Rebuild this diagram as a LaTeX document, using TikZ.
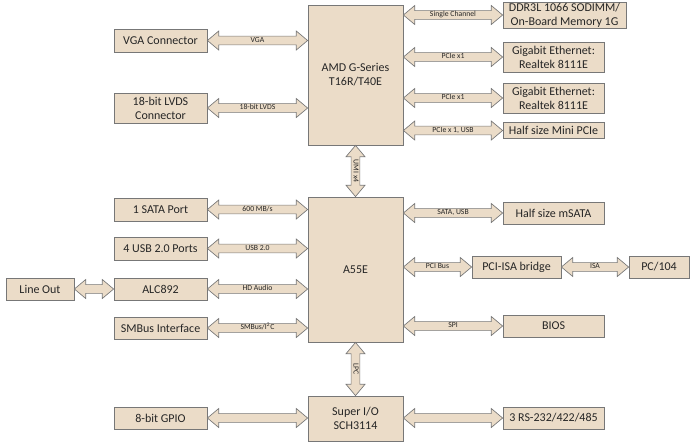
\documentclass[tikz,border=0pt]{standalone}
\usepackage{fontspec}
\setmainfont{Carlito}
\usetikzlibrary{shapes.arrows,calc}
\definecolor{boxfill}{HTML}{EBDCC8}
\definecolor{boxline}{HTML}{777777}
\definecolor{txt}{HTML}{262626}

% fat two-headed bus arrow between two points
\newcommand{\busarrow}[3][]{%
  \path let \p1=(#2), \p2=(#3), \n1={veclen(\x2-\x1,\y2-\y1)}, \n2={atan2(\y2-\y1,\x2-\x1)} in
    node[bus, minimum height=\n1, rotate=\n2] at ($(\p1)!0.5!(\p2)$) {#1};}

\begin{document}
\begin{tikzpicture}[x=0.75pt, y=-0.75pt, text=txt,
  box/.style 2 args={draw=boxline, fill=boxfill, line width=0.6pt, inner sep=0pt, align=center,
    minimum width=#1*0.75pt, minimum height=#2*0.75pt, font=\fontsize{9}{10.5}\selectfont},
  bus/.style={double arrow, draw=boxline, fill=boxfill, line width=0.5pt, inner xsep=0pt, inner ysep=0.6pt,
    text height=3.9pt, text depth=1pt, double arrow head extend=3.8pt, double arrow tip angle=80,
    font=\fontsize{5.8}{6}\selectfont}]
\useasboundingbox (0,0) rectangle (698,444);

\node[box={95}{140}] (cpu) at (355.5,75) {AMD G-Series\\T16R/T40E};
\node[box={95}{145}] (fch) at (355.5,269.5) {A55E};
\node[box={95}{45}] (sio) at (355.5,418.5) {Super I/O\\SCH3114};

\node[box={93}{23}] (vga) at (160.5,40.5) {VGA Connector};
\node[box={93}{30}] (lvds) at (160.5,108) {18-bit LVDS\\Connector};
\node[box={93}{23}] (sata) at (160.5,209.5) {1 SATA Port};
\node[box={93}{23}] (usb) at (160.5,248.5) {4 USB 2.0 Ports};
\node[box={93}{22}] (alc) at (160.5,289) {ALC892};
\node[box={68}{22}] (lineout) at (40,289) {Line Out};
\node[box={93}{22}] (smbus) at (160.5,328) {SMBus Interface};
\node[box={93}{22}] (gpio) at (160.5,418) {8-bit GPIO};

\node[box={123}{26}] (ddr) at (564.5,15) {DDR3L 1066 SODIMM/\\On-Board Memory 1G};
\node[box={101}{30}] (lan1) at (553.5,57) {Gigabit Ethernet:\\Realtek 8111E};
\node[box={101}{30}] (lan2) at (553.5,98) {Gigabit Ethernet:\\Realtek 8111E};
\node[box={101}{16}] (minipcie) at (553.5,130.5) {Half size Mini PCIe};
\node[box={101}{22}] (msata) at (553.5,213) {Half size mSATA};
\node[box={89}{22}] (pcisa) at (516.5,267) {PCI-ISA bridge};
\node[box={60}{22}] (pc104) at (659,267) {PC/104};
\node[box={101}{22}] (bios) at (553.5,326) {BIOS};
\node[box={101}{22}] (serial) at (553.5,418) {3 RS-232/422/485};

\busarrow[VGA]{vga.east}{vga.east -| cpu.west}
\busarrow[18-bit LVDS]{lvds.east}{lvds.east -| cpu.west}
\busarrow[Single Channel]{cpu.east |- ddr.west}{ddr.west}
\busarrow[PCIe x1]{cpu.east |- lan1.west}{lan1.west}
\busarrow[PCIe x1]{cpu.east |- lan2.west}{lan2.west}
\busarrow[PCIe x 1, USB]{cpu.east |- minipcie.west}{minipcie.west}
\busarrow[UMI x4]{cpu.south}{fch.north}

\busarrow[600 MB/s]{sata.east}{sata.east -| fch.west}
\busarrow[USB 2.0]{usb.east}{usb.east -| fch.west}
\busarrow[HD Audio]{alc.east}{alc.east -| fch.west}
\busarrow{lineout.east}{alc.west}
\busarrow[SMBus/I\textsuperscript{2}C]{smbus.east}{smbus.east -| fch.west}
\busarrow[SATA, USB]{fch.east |- msata.west}{msata.west}
\busarrow[PCI Bus]{fch.east |- pcisa.west}{pcisa.west}
\busarrow[ISA]{pcisa.east}{pc104.west}
\busarrow[SPI]{fch.east |- bios.west}{bios.west}
\busarrow[LPC]{fch.south}{sio.north}

\busarrow{gpio.east}{gpio.east -| sio.west}
\busarrow{sio.east |- serial.west}{serial.west}
\end{tikzpicture}
\end{document}
